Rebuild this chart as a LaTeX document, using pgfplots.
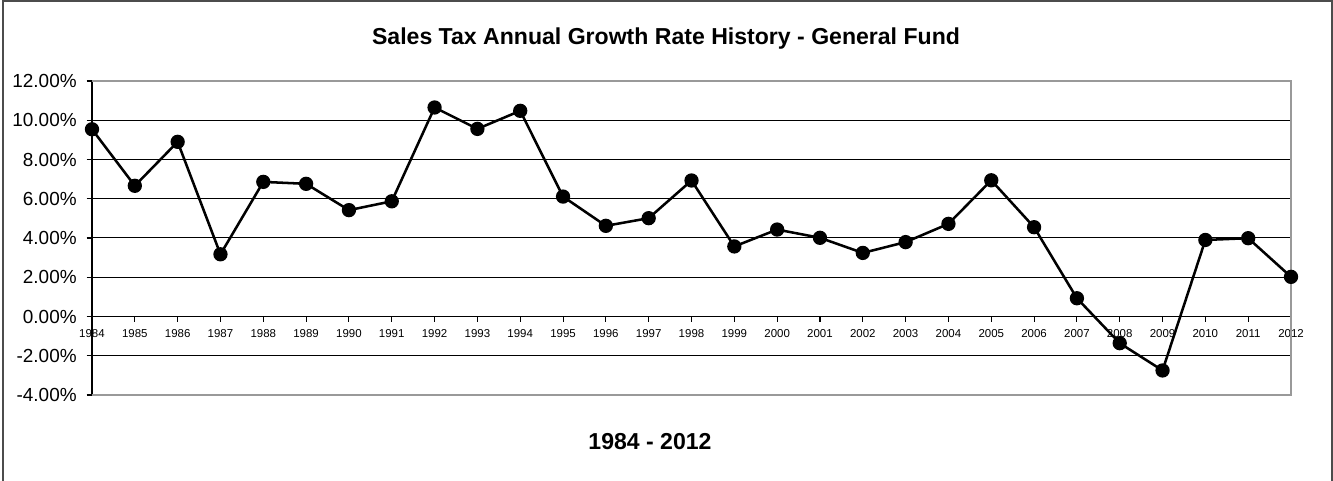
\documentclass[border=0pt]{standalone}
\usepackage{fontspec}
\setmainfont{Liberation Sans}
\usepackage{pgfplots}
\pgfplotsset{compat=1.18}
\begin{document}
\begin{tikzpicture}
\useasboundingbox (0,0) rectangle (999.75pt,360.75pt);
\draw[black!70, line width=1.5pt] (2.2pt,-20pt) -- (2.2pt,359.8pt) -- (998.8pt,359.8pt) -- (998.8pt,-20pt);
\begin{axis}[
  at={(69pt,64.5pt)}, anchor=south west,
  scale only axis, width=899.25pt, height=235.5pt,
  xmin=1984, xmax=2012, ymin=-4, ymax=12,
  axis y line=left, axis x line=middle,
  hide obscured x ticks=false,
  axis line style={-, black, line width=0.8pt},
  tick align=outside,
  major tick length=4pt,
  tick style={black, line width=0.8pt},
  xtick={1984,1985,...,2012},
  xticklabels={1984,1985,1986,1987,1988,1989,1990,1991,1992,1993,1994,1995,1996,1997,1998,1999,2000,2001,2002,2003,2004,2005,2006,2007,2008,2009,2010,2011,2012},
  ytick={-4,-2,0,2,4,6,8,10,12},
  yticklabels={-4.00\%,-2.00\%,0.00\%,2.00\%,4.00\%,6.00\%,8.00\%,10.00\%,12.00\%},
  xticklabel style={font=\fontsize{8.6pt}{10pt}\selectfont, yshift=-2pt},
  yticklabel style={font=\fontsize{14.2pt}{16pt}\selectfont, xshift=-4pt},
  ymajorgrids, grid style={black, line width=0.75pt},
  clip=false,
]
\draw[black!40, line width=1pt] (rel axis cs:0,1) -- (rel axis cs:1,1) -- (rel axis cs:1,0) -- (rel axis cs:0,0);
\addplot[black, line width=1.9pt, mark=*, mark size=4.4pt, mark options={solid, fill=black}] coordinates {
(1984,9.54) (1985,6.66) (1986,8.90) (1987,3.17) (1988,6.86) (1989,6.76) (1990,5.42)
(1991,5.87) (1992,10.65) (1993,9.56) (1994,10.48) (1995,6.11) (1996,4.62) (1997,5.01)
(1998,6.93) (1999,3.57) (2000,4.43) (2001,4.01) (2002,3.24) (2003,3.79) (2004,4.72)
(2005,6.94) (2006,4.55) (2007,0.93) (2008,-1.36) (2009,-2.75) (2010,3.90) (2011,3.99)
(2012,2.02)};
\end{axis}
\node[font=\bfseries\fontsize{17.3pt}{20pt}\selectfont] at (499.5pt,331.5pt) {Sales Tax Annual Growth Rate History - General Fund};
\node[font=\bfseries\fontsize{17.3pt}{20pt}\selectfont] at (487.5pt,29.25pt) {1984 - 2012};
\end{tikzpicture}
\end{document}
